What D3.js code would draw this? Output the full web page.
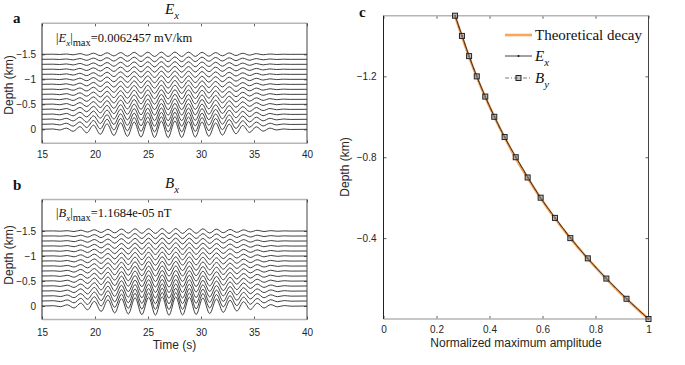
<!DOCTYPE html>
<html>
<head>
<meta charset="utf-8">
<script src="https://cdn.jsdelivr.net/npm/d3@7"></script>
<style>
body { margin: 0; background: #fff; }
svg text { font-family: "Liberation Sans", Arial, sans-serif; fill: #262626; }
svg text.serif { font-family: "Liberation Serif", "Times New Roman", serif; fill: #111; }
</style>
</head>
<body>
<svg id="fig" width="685" height="365"></svg>
<script>
// depth of each trace / panel c sample (km)
var depths = [0, -0.1, -0.2, -0.3, -0.4, -0.5, -0.6, -0.7, -0.8, -0.9, -1.0, -1.1, -1.2, -1.3, -1.4, -1.5];
// normalized maximum amplitude (panel c)
var theoryAmp = [1.000, 0.916, 0.840, 0.770, 0.705, 0.646, 0.592, 0.543, 0.497, 0.456, 0.418, 0.383, 0.351, 0.322, 0.295, 0.270];
var exAmp     = [1.000, 0.918, 0.841, 0.770, 0.706, 0.648, 0.592, 0.545, 0.500, 0.457, 0.419, 0.384, 0.352, 0.323, 0.297, 0.270];
var byAmp     = [1.000, 0.917, 0.841, 0.771, 0.705, 0.647, 0.593, 0.544, 0.499, 0.457, 0.418, 0.384, 0.352, 0.323, 0.296, 0.270];

// surface waveform extremes (time s, normalized value)
var exTimes = [15, 16.02, 16.66, 17.30, 17.94, 18.58, 19.22, 19.86, 20.50, 21.14, 21.78, 22.42, 23.06, 23.70, 24.34, 24.98, 25.62, 26.26, 26.90,
               27.54, 28.18, 28.82, 29.46, 30.10, 30.74, 31.38, 32.02, 32.66, 33.30, 33.94, 34.58, 35.22, 35.86, 36.50, 37.14, 37.78, 38.42, 40];
var exWave  = [0, 0.04, -0.08, 0.14, -0.24, 0.32, -0.42, 0.50, -0.60, 0.66, -0.74, 0.78, -0.85, 0.88, -0.93, 0.95, -0.99, 0.99, -1.00,
               1.00, -0.99, 0.96, -0.94, 0.88, -0.84, 0.76, -0.70, 0.62, -0.54, 0.46, -0.38, 0.30, -0.22, 0.14, -0.08, 0.04, -0.02, 0];
var bxTimes = [15, 16.10, 16.74, 17.38, 18.02, 18.66, 19.30, 19.94, 20.58, 21.22, 21.86, 22.50, 23.14, 23.78, 24.42, 25.06, 25.70, 26.34, 26.98,
               27.62, 28.26, 28.90, 29.54, 30.18, 30.82, 31.46, 32.10, 32.74, 33.38, 34.02, 34.66, 35.30, 35.94, 36.58, 37.22, 37.86, 38.50, 40];
var bxWave  = [0, 0.03, -0.07, 0.13, -0.22, 0.31, -0.41, 0.50, -0.59, 0.67, -0.75, 0.80, -0.86, 0.90, -0.94, 0.96, -0.99, 1.00, -1.00,
               0.99, -0.98, 0.95, -0.92, 0.87, -0.82, 0.76, -0.69, 0.62, -0.54, 0.46, -0.38, 0.30, -0.22, 0.15, -0.09, 0.05, -0.02, 0];
var exGain = 0.166;   // km of plot per unit of normalized trace
var bxGain = 0.185;

var timeTicks = [15, 20, 25, 30, 35, 40];
var traceDepthTicks = [-1.5, -1, -0.5, 0];
var ampTicks = [0, 0.2, 0.4, 0.6, 0.8, 1];
var decayDepthTicks = [-1.2, -0.8, -0.4];

var svg = d3.select("#fig");

// MATLAB style box: inward ticks all round, grey top/bottom edges
function drawBox(g, x, y, xTicks, yTicks, xFmt, yFmt, xPad, yPad) {
    var x0 = x.range()[0], x1 = x.range()[1];
    var yTop = d3.min(y.range()), yBot = d3.max(y.range());

    g.append("g").attr("transform", "translate(0," + yBot + ")")
        .call(d3.axisBottom(x).tickValues(xTicks).tickFormat(xFmt).tickSizeInner(-3).tickSizeOuter(0).tickPadding(xPad));
    g.append("g").attr("transform", "translate(0," + yTop + ")")
        .call(d3.axisTop(x).tickValues(xTicks).tickFormat("").tickSizeInner(-3).tickSizeOuter(0));
    g.append("g").attr("transform", "translate(" + x0 + ",0)")
        .call(d3.axisLeft(y).tickValues(yTicks).tickFormat(yFmt).tickSizeInner(-3).tickSizeOuter(0).tickPadding(yPad));
    g.append("g").attr("transform", "translate(" + x1 + ",0)")
        .call(d3.axisRight(y).tickValues(yTicks).tickFormat("").tickSizeInner(-3).tickSizeOuter(0));

    g.selectAll(".domain").remove();
    g.selectAll(".tick line").attr("stroke", "#333").attr("stroke-width", 0.8);
    g.selectAll(".tick text").attr("font-size", 10).attr("fill", "#262626")
        .style("font-family", "'Liberation Sans', Arial, sans-serif");

    g.append("line").attr("x1", x0).attr("x2", x1).attr("y1", yTop).attr("y2", yTop)
        .attr("stroke", "#b5b5b5").attr("stroke-width", 1.6);
    g.append("line").attr("x1", x0).attr("x2", x1).attr("y1", yBot).attr("y2", yBot)
        .attr("stroke", "#b5b5b5").attr("stroke-width", 1.6);
    g.append("line").attr("x1", x0).attr("x2", x0).attr("y1", yTop).attr("y2", yBot)
        .attr("stroke", "#222").attr("stroke-width", 1);
    g.append("line").attr("x1", x1).attr("x2", x1).attr("y1", yTop).attr("y2", yBot)
        .attr("stroke", "#444").attr("stroke-width", 1);
}

function subText(sel, x, y, main, sub, size, anchor) {
    var t = sel.append("text").attr("class", "serif").attr("x", x).attr("y", y)
        .attr("font-size", size).attr("text-anchor", anchor || "start");
    t.append("tspan").attr("font-style", "italic").text(main);
    t.append("tspan").attr("font-style", "italic").attr("font-size", size * 0.72).attr("dy", size * 0.3).text(sub);
    return t;
}

function drawTracePanel(opt) {
    var g = svg.append("g");
    var x = d3.scaleLinear().domain([15, 40]).range([42, 307]);
    var y = d3.scaleLinear().domain(opt.yDomain).range(opt.yRange);

    var line = d3.line()
        .x(function(d) { return x(d[0]); })
        .y(function(d) { return y(d[1]); })
        .curve(d3.curveMonotoneX);

    depths.forEach(function(dep, i) {
        var pts = opt.times.map(function(t, j) {
            return [t, dep - opt.wave[j] * opt.gain * opt.amp[i]];
        });
        g.append("path").attr("d", line(pts))
            .attr("fill", "none").attr("stroke", "#2a2a2a").attr("stroke-width", 0.9);
    });

    drawBox(g, x, y, timeTicks, traceDepthTicks, d3.format("d"), function(d) { return d3.format("")(d); }, opt.xPad, 6);

    // Depth label
    g.append("text").attr("transform", "translate(13," + opt.labelY + ") rotate(-90)")
        .attr("text-anchor", "middle").attr("font-size", 12).text("Depth (km)");

    // title
    subText(g, 172, opt.titleY, opt.title, "x", 15, "middle");

    // panel letter
    g.append("text").attr("class", "serif").attr("x", 13).attr("y", opt.letterY)
        .attr("font-size", 15).attr("font-weight", "bold").text(opt.letter);

    // max annotation
    var a = g.append("text").attr("class", "serif").attr("x", 56).attr("y", opt.noteY).attr("font-size", 12.5);
    a.append("tspan").text("|");
    a.append("tspan").attr("font-style", "italic").text(opt.title);
    a.append("tspan").attr("font-style", "italic").attr("font-size", 9).attr("dy", 3.5).text("x");
    a.append("tspan").attr("dy", -3.5).text("|");
    a.append("tspan").attr("font-size", 10.5).attr("dy", 3.5).text("max");
    a.append("tspan").attr("dy", -3.5).text(opt.note);
    return g;
}

drawTracePanel({
    letter: "a", title: "E", times: exTimes, wave: exWave, gain: exGain, amp: exAmp,
    yDomain: [-2.12, 0.28], yRange: [23.3, 143.3], xPad: 8,
    labelY: 85, titleY: 14, letterY: 23, noteY: 42, note: "=0.0062457 mV/km"
});

var gb = drawTracePanel({
    letter: "b", title: "B", times: bxTimes, wave: bxWave, gain: bxGain, amp: byAmp,
    yDomain: [-2.13, 0.27], yRange: [199.5, 319.5], xPad: 9,
    labelY: 255, titleY: 188, letterY: 190, noteY: 217, note: "=1.1684e-05 nT"
});
gb.append("text").attr("x", 174.5).attr("y", 349).attr("text-anchor", "middle")
    .attr("font-size", 12).text("Time (s)");

// panel c
var gc = svg.append("g");
var xc = d3.scaleLinear().domain([0, 1]).range([383.5, 648.5]);
var yc = d3.scaleLinear().domain([-1.5, 0]).range([15.7, 319]);

var decayLine = function(vals) {
    return d3.line()
        .x(function(d, i) { return xc(vals[i]); })
        .y(function(d) { return yc(d); })
        .curve(d3.curveMonotoneY)(depths);
};

drawBox(gc, xc, yc, ampTicks, decayDepthTicks, function(d) { return d3.format("")(d); }, d3.format(".1f"), 7, 7);

gc.append("path").attr("d", decayLine(theoryAmp))
    .attr("fill", "none").attr("stroke", "#f9a55a").attr("stroke-width", 2.6);
gc.append("path").attr("d", decayLine(exAmp))
    .attr("fill", "none").attr("stroke", "#111").attr("stroke-width", 0.8);
gc.selectAll("circle.ex").data(depths).enter().append("circle")
    .attr("cx", function(d, i) { return xc(exAmp[i]); })
    .attr("cy", function(d) { return yc(d); })
    .attr("r", 1).attr("fill", "#111");
gc.append("path").attr("d", decayLine(byAmp))
    .attr("fill", "none").attr("stroke", "#444").attr("stroke-width", 0.7).attr("stroke-dasharray", "4,2,1,2");
gc.selectAll("rect.by").data(depths).enter().append("rect")
    .attr("x", function(d, i) { return xc(byAmp[i]) - 2.5; })
    .attr("y", function(d) { return yc(d) - 2.5; })
    .attr("width", 5).attr("height", 5)
    .attr("fill", "#9a9a9a").attr("fill-opacity", 0.6).attr("stroke", "#222").attr("stroke-width", 1);

// legend
gc.append("line").attr("x1", 505).attr("x2", 532).attr("y1", 35).attr("y2", 35)
    .attr("stroke", "#f9a55a").attr("stroke-width", 2.6);
gc.append("text").attr("class", "serif").attr("x", 535).attr("y", 40).attr("font-size", 15).text("Theoretical decay");
gc.append("line").attr("x1", 505).attr("x2", 532).attr("y1", 56).attr("y2", 56)
    .attr("stroke", "#111").attr("stroke-width", 0.8);
gc.append("circle").attr("cx", 518.5).attr("cy", 56).attr("r", 1).attr("fill", "#111");
subText(gc, 535, 61, "E", "x", 15);
gc.append("line").attr("x1", 505).attr("x2", 532).attr("y1", 78).attr("y2", 78)
    .attr("stroke", "#444").attr("stroke-width", 0.7).attr("stroke-dasharray", "4,2,1,2");
gc.append("rect").attr("x", 516).attr("y", 75.5).attr("width", 5).attr("height", 5)
    .attr("fill", "#9a9a9a").attr("fill-opacity", 0.6).attr("stroke", "#222").attr("stroke-width", 1);
subText(gc, 535, 83, "B", "y", 15);

gc.append("text").attr("transform", "translate(349,167) rotate(-90)")
    .attr("text-anchor", "middle").attr("font-size", 12).text("Depth (km)");
gc.append("text").attr("x", 516).attr("y", 347).attr("text-anchor", "middle")
    .attr("font-size", 12).text("Normalized maximum amplitude");
gc.append("text").attr("class", "serif").attr("x", 359).attr("y", 17)
    .attr("font-size", 15).attr("font-weight", "bold").text("c");
</script>
</body>
</html>
